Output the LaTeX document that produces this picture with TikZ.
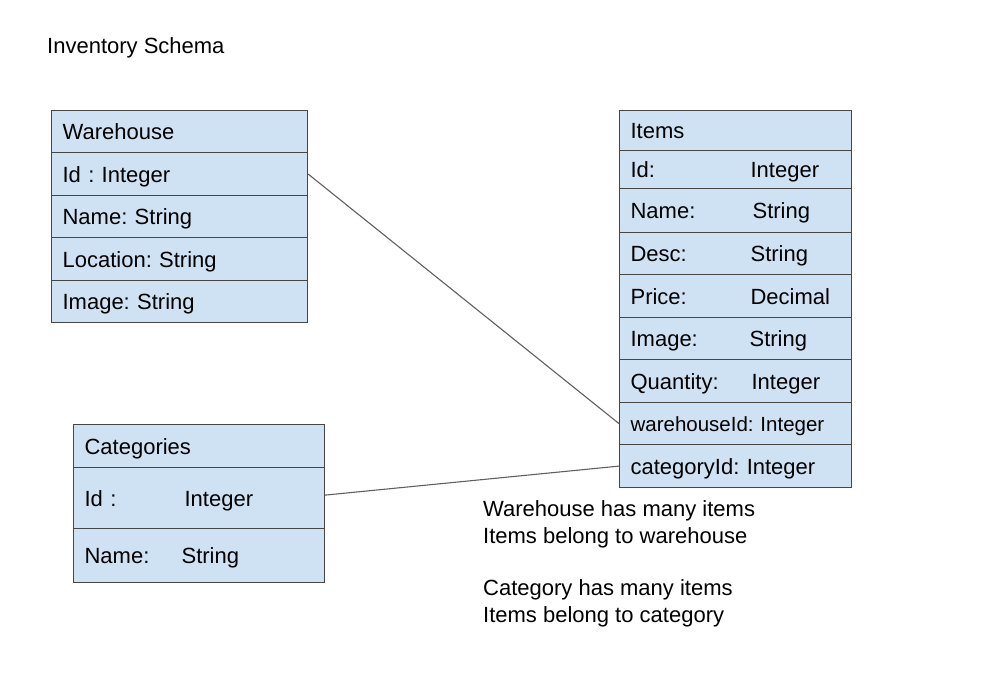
\documentclass[tikz,border=0pt]{standalone}
\usepackage{fontspec}
\setmainfont{Liberation Sans}
\usepackage{tikz}
\frenchspacing

\definecolor{rowblue}{RGB}{207,226,243}
\definecolor{boxline}{RGB}{70,70,70}
\definecolor{linkgray}{RGB}{95,95,95}

\newcommand{\fieldpair}[3]{\makebox[#1][l]{#2}#3}

\begin{document}
\begin{tikzpicture}[x=1pt,y=-1pt,
  row/.style={draw=boxline,line width=1.2pt,fill=rowblue,anchor=north west,
    inner xsep=11pt,inner ysep=0pt,text height=16pt,text depth=0pt,align=left,
    font=\fontsize{22}{26}\selectfont},
  whrow/.style={row,text width=234pt},
  itrow/.style={row,text width=210pt},
  catrow/.style={row,text width=229pt},
  link/.style={draw=linkgray,line width=1.1pt}]
  \useasboundingbox (0,0) rectangle (986,683);

  \node [anchor=base west,inner sep=0pt,font=\fontsize{22}{26}\selectfont] (title) at (47,53) {Inventory Schema};

% Warehouse
\node [whrow,minimum height=42pt] (wh-title) at (51,110) {Warehouse};
\node [whrow,minimum height=43pt] (wh-id) at (51,152) {Id : Integer};
\node [whrow,minimum height=42pt] (wh-name) at (51,195) {Name: String};
\node [whrow,minimum height=43pt] (wh-loc) at (51,237) {Location: String};
\node [whrow,minimum height=42pt] (wh-img) at (51,280) {Image: String};

% Items
\node [itrow,minimum height=40pt] (it-title) at (619,110) {Items};
\node [itrow,minimum height=38pt] (it-id) at (619,150) {\fieldpair{120pt}{Id:}{Integer}};
\node [itrow,minimum height=44pt] (it-name) at (619,188) {\fieldpair{122pt}{Name:}{String}};
\node [itrow,minimum height=42pt] (it-desc) at (619,232) {\fieldpair{120pt}{Desc:}{String}};
\node [itrow,minimum height=43pt] (it-price) at (619,274) {\fieldpair{120pt}{Price:}{Decimal}};
\node [itrow,minimum height=42pt] (it-img) at (619,317) {\fieldpair{119pt}{Image:}{String}};
\node [itrow,minimum height=43pt] (it-qty) at (619,359) {\fieldpair{121pt}{Quantity:}{Integer}};
\node [itrow,minimum height=42pt,font=\fontsize{20.5}{24}\selectfont] (it-whid) at (619,402) {warehouseId: Integer};
\node [itrow,minimum height=43pt] (it-catid) at (619,444) {categoryId: Integer};

% Categories
\node [catrow,minimum height=43pt] (cat-title) at (73,424) {Categories};
\node [catrow,minimum height=61pt] (cat-id) at (73,467) {\fieldpair{100pt}{Id :}{Integer}};
\node [catrow,minimum height=54pt] (cat-name) at (73,528) {\fieldpair{97pt}{Name:}{String}};

\draw[link] (wh-id.east) -- (it-whid.west);
\draw[link] ([yshift=3pt]cat-id.east) -- (it-catid.west);

\node [anchor=base west,inner sep=0pt,align=left,font=\fontsize{22}{26.3}\selectfont] (notes) at (483,622)
  {Warehouse has many items\\Items belong to warehouse\\[26.3pt]Category has many items\\Items belong to category};

\end{tikzpicture}
\end{document}
